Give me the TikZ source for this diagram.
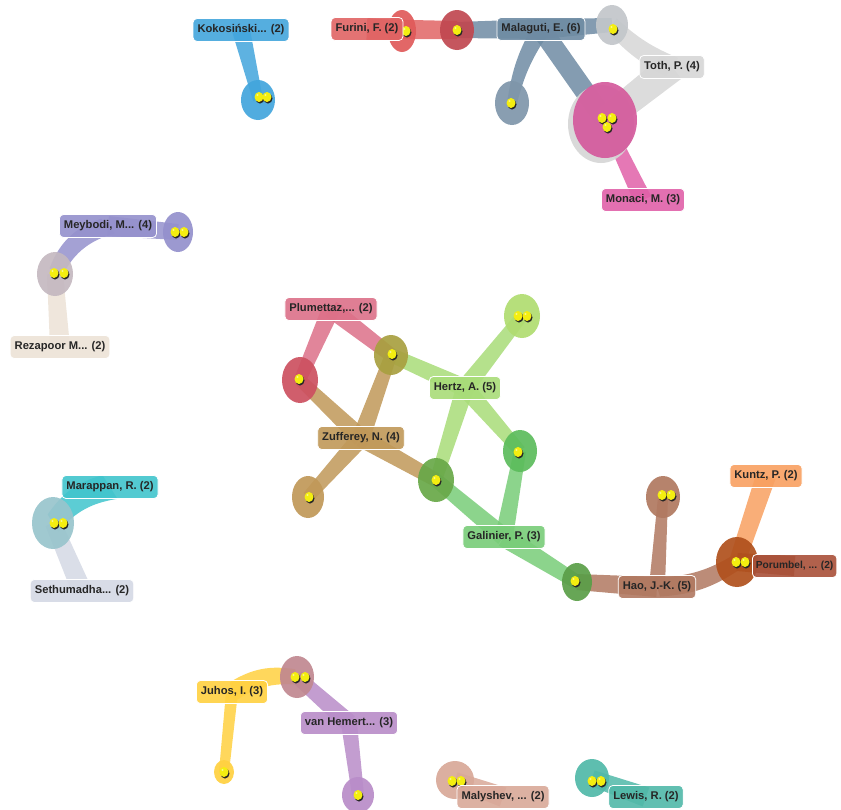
\documentclass[tikz,border=0pt]{standalone}
\usepackage{fontspec}
\setmainfont{Liberation Sans}
\usetikzlibrary{calc,shapes.geometric}
\pgfdeclarelayer{stems}
\pgfdeclarelayer{blobs}
\pgfsetlayers{stems,blobs,main}
% label colours
\definecolor{cKok}{HTML}{42A5DC}
\definecolor{cFur}{HTML}{E06464}
\definecolor{cMal}{HTML}{6E8BA3}
\definecolor{cToth}{HTML}{D6D6D6}
\definecolor{cMon}{HTML}{E060A8}
\definecolor{cMey}{HTML}{9490CC}
\definecolor{cRez}{HTML}{ECE2D6}
\definecolor{cPl}{HTML}{DC7088}
\definecolor{cHz}{HTML}{A8DC78}
\definecolor{cZf}{HTML}{C09858}
\definecolor{cGa}{HTML}{78CC78}
\definecolor{cHao}{HTML}{B07860}
\definecolor{cKu}{HTML}{F8A060}
\definecolor{cPo}{HTML}{A85038}
\definecolor{cMa}{HTML}{40C4CC}
\definecolor{cSe}{HTML}{D4D8E4}
\definecolor{cJu}{HTML}{FFD040}
\definecolor{cVh}{HTML}{B88CC8}
\definecolor{cMl}{HTML}{D8A898}
\definecolor{cLw}{HTML}{50B8A8}
% blob colours
\definecolor{bFur1}{HTML}{E05A5A}
\definecolor{bFur2}{HTML}{C04850}
\definecolor{bMal1}{HTML}{C2C6CA}
\definecolor{bMal2}{HTML}{7F96AA}
\definecolor{bMon}{HTML}{D45A9C}
\definecolor{bMey2}{HTML}{C4B8C0}
\definecolor{bPl1}{HTML}{CC5060}
\definecolor{bPl2}{HTML}{A8A040}
\definecolor{bHz1}{HTML}{B0DC70}
\definecolor{bHz2}{HTML}{68A848}
\definecolor{bHz3}{HTML}{5CBC5C}
\definecolor{bGa}{HTML}{5A9E48}
\definecolor{bHao2}{HTML}{B0501C}
\definecolor{bMa}{HTML}{98C4CC}
\definecolor{bJu1}{HTML}{C08890}
\definecolor{dotY}{HTML}{F4EE10}
\tikzset{
  lab/.style={rounded corners=4pt, draw=white, line width=0.8pt, fill opacity=0.9,
    text opacity=1, inner xsep=4.5pt, inner ysep=0pt, minimum height=23pt,
    font=\fontsize{11.2}{13}\selectfont\bfseries, text=black!85},
  blob/.style={ellipse, inner sep=0pt, fill opacity=0.92}
}
\newcommand{\stem}[6][0]{%
  \fill[#6, fill opacity=0.85] ($(#2)!#4!90:(#3)$) to[bend left=#1] ($(#3)!#5!-90:(#2)$)
    -- ($(#3)!#5!90:(#2)$) to[bend right=#1] ($(#2)!#4!-90:(#3)$) -- cycle;}
\newcommand{\ydot}[1]{%
  \fill[black!85] ($(#1)+(1,1.5)$) ellipse (4.5 and 5);
  \fill[dotY] (#1) ellipse (4.5 and 5);
  \fill[white, fill opacity=0.5] ($(#1)+(-1.5,-2)$) circle (1.2);}
\begin{document}
\begin{tikzpicture}[x=1pt,y=-1pt]
\useasboundingbox (0,0) rectangle (841,809);
% ---------- blobs (papers) ----------
\begin{pgfonlayer}{blobs}
\node[blob, fill=cKok, minimum width=34pt, minimum height=40pt] (kokP) at (258,100) {};
\node[blob, fill=bFur1, minimum width=28pt, minimum height=42pt] (furP1) at (402,31) {};
\node[blob, fill=bFur2, minimum width=34pt, minimum height=40pt] (furP2) at (457,30) {};
\node[blob, fill=bMal1, minimum width=32pt, minimum height=40pt] (malP1) at (612,25) {};
\node[blob, fill=bMal2, minimum width=34pt, minimum height=44pt] (malP2) at (512,103) {};
\node[blob, fill=cToth, minimum width=66pt, minimum height=78pt] (monH) at (601,124) {};
\node[blob, fill=bMon, minimum width=64pt, minimum height=76pt] (monP) at (605,120) {};
\node[blob, fill=cMey, minimum width=30pt, minimum height=40pt] (meyP1) at (178,232) {};
\node[blob, fill=bMey2, minimum width=36pt, minimum height=44pt] (meyP2) at (55,274) {};
\node[blob, fill=bPl1, minimum width=36pt, minimum height=46pt] (plP1) at (300,380) {};
\node[blob, fill=bPl2, minimum width=34pt, minimum height=40pt] (plP2) at (391,355) {};
\node[blob, fill=bHz1, minimum width=36pt, minimum height=44pt] (hzP1) at (522,316) {};
\node[blob, fill=cZf, minimum width=32pt, minimum height=42pt] (zfP) at (308,497) {};
\node[blob, fill=bHz2, minimum width=36pt, minimum height=44pt] (hzP2) at (436,480) {};
\node[blob, fill=bHz3, minimum width=34pt, minimum height=42pt] (hzP3) at (520,451) {};
\node[blob, fill=bGa, minimum width=30pt, minimum height=38pt] (gaP) at (577,582) {};
\node[blob, fill=cHao, minimum width=34pt, minimum height=42pt] (haoP1) at (663,497) {};
\node[blob, fill=bHao2, minimum width=42pt, minimum height=50pt] (haoP2) at (737,562) {};
\node[blob, fill=bMa, minimum width=42pt, minimum height=52pt] (maP) at (53,523) {};
\node[blob, fill=bJu1, minimum width=34pt, minimum height=42pt] (juP1) at (297,677) {};
\node[blob, fill=cJu, minimum width=20pt, minimum height=24pt] (juP2) at (224,772) {};
\node[blob, fill=cVh, minimum width=32pt, minimum height=36pt] (vhP) at (358,795) {};
\node[blob, fill=cMl, minimum width=38pt, minimum height=38pt] (mlP) at (455,780) {};
\node[blob, fill=cLw, minimum width=34pt, minimum height=38pt] (lwP) at (592,778) {};
\end{pgfonlayer}
% ---------- dots ----------
\ydot{259,97}\ydot{267,97}
\ydot{406,31}
\ydot{457,30}
\ydot{613,29}
\ydot{511,103}
\ydot{602,118}\ydot{612,118}\ydot{607,127}
\ydot{175,232}\ydot{184,232}
\ydot{54,273}\ydot{64,273}
\ydot{299,379}
\ydot{392,354}
\ydot{518,316}\ydot{527,316}
\ydot{309,497}
\ydot{436,480}
\ydot{518,452}
\ydot{575,581}
\ydot{662,495}\ydot{671,495}
\ydot{736,562}\ydot{745,562}
\ydot{54,523}\ydot{63,523}
\ydot{295,677}\ydot{305,677}
\ydot{224,772}
\ydot{358,795}
\ydot{452,781}\ydot{461,781}
\ydot{592,781}\ydot{601,781}
% ---------- labels ----------
\node[lab, fill=cKok] (kokL) at (241,30) {Kokosiński... (2)};
\node[lab, fill=cFur] (furL) at (367,29) {Furini, F. (2)};
\node[lab, fill=cMal] (malL) at (541,29) {Malaguti, E. (6)};
\node[lab, fill=cToth] (tothL) at (672,67) {Toth, P. (4)};
\node[lab, fill=cMon] (monL) at (643,200) {Monaci, M. (3)};
\node[lab, fill=cMey] (meyL) at (108,226) {Meybodi, M... (4)};
\node[lab, fill=cRez] (rezL) at (60,347) {Rezapoor M... (2)};
\node[lab, fill=cPl] (plL) at (331,309) {Plumettaz,... (2)};
\node[lab, fill=cHz] (hzL) at (465,388) {Hertz, A. (5)};
\node[lab, fill=cZf] (zfL) at (361,438) {Zufferey, N. (4)};
\node[lab, fill=cGa] (gaL) at (504,537) {Galinier, P. (3)};
\node[lab, fill=cHao] (haoL) at (657,587) {Hao, J.-K. (5)};
\node[lab, fill=cKu] (kuL) at (766,476) {Kuntz, P. (2)};
\node[lab, fill=cPo, anchor=west, inner xsep=3.5pt, font=\fontsize{10.2}{12}\selectfont\bfseries] (poL) at (752,566) {Porumbel, ... (2)};
\node[lab, fill=cMa] (maL) at (110,487) {Marappan, R. (2)};
\node[lab, fill=cSe] (seL) at (82,591) {Sethumadha... (2)};
\node[lab, fill=cJu] (juL) at (232,692) {Juhos, I. (3)};
\node[lab, fill=cVh] (vhL) at (349,723) {van Hemert... (3)};
\node[lab, fill=cMl] (mlL) at (503,797) {Malyshev, ... (2)};
\node[lab, fill=cLw] (lwL) at (646,797) {Lewis, R. (2)};
% ---------- stems ----------
\begin{pgfonlayer}{stems}
\stem{kokL}{kokP}{9pt}{5pt}{cKok}
\stem{furL}{furP1}{11pt}{10pt}{cFur}
\stem{furL}{furP2}{10pt}{9pt}{cFur}
\stem{malL}{furP2}{10pt}{8pt}{cMal}
\stem{malL}{malP1}{10pt}{7pt}{cMal}
\stem[-10]{malL}{malP2}{9pt}{5pt}{cMal}
\stem{malL}{monP}{10pt}{10pt}{cMal}
\stem[10]{tothL}{malP1}{11pt}{8pt}{cToth}
\stem{tothL}{monP}{15pt}{13pt}{cToth}
\stem{monL}{monP}{9pt}{6pt}{cMon}
\stem{meyL}{meyP1}{10pt}{8pt}{cMey}
\stem[-25]{meyL}{meyP2}{10pt}{8pt}{cMey}
\stem{rezL}{meyP2}{10pt}{8pt}{cRez}
\stem{plL}{plP1}{9pt}{6pt}{cPl}
\stem{plL}{plP2}{9pt}{7pt}{cPl}
\stem{hzL}{plP2}{9pt}{7pt}{cHz}
\stem{hzL}{hzP1}{9pt}{6pt}{cHz}
\stem{hzL}{hzP2}{9pt}{6pt}{cHz}
\stem{hzL}{hzP3}{9pt}{6pt}{cHz}
\stem{zfL}{plP1}{9pt}{6pt}{cZf}
\stem{zfL}{plP2}{9pt}{6pt}{cZf}
\stem{zfL}{zfP}{9pt}{6pt}{cZf}
\stem{zfL}{hzP2}{9pt}{7pt}{cZf}
\stem{gaL}{hzP2}{9pt}{7pt}{cGa}
\stem{gaL}{hzP3}{9pt}{6pt}{cGa}
\stem{gaL}{gaP}{10pt}{7pt}{cGa}
\stem{haoL}{gaP}{10pt}{8pt}{cHao}
\stem{haoL}{haoP1}{8pt}{5pt}{cHao}
\stem[-15]{haoL}{haoP2}{10pt}{8pt}{cHao}
\stem{kuL}{haoP2}{10pt}{8pt}{cKu}
\stem{poL}{haoP2}{10pt}{9pt}{cPo}
\stem[-20]{maL}{maP}{14pt}{10pt}{cMa}
\stem{seL}{maP}{10pt}{8pt}{cSe}
\stem[20]{juL}{juP1}{10pt}{8pt}{cJu}
\stem{juL}{juP2}{6pt}{5pt}{cJu}
\stem{vhL}{juP1}{9pt}{7pt}{cVh}
\stem{vhL}{vhP}{8pt}{6pt}{cVh}
\stem{mlL}{mlP}{10pt}{8pt}{cMl}
\stem{lwL}{lwP}{10pt}{8pt}{cLw}
\end{pgfonlayer}
\end{tikzpicture}
\end{document}
